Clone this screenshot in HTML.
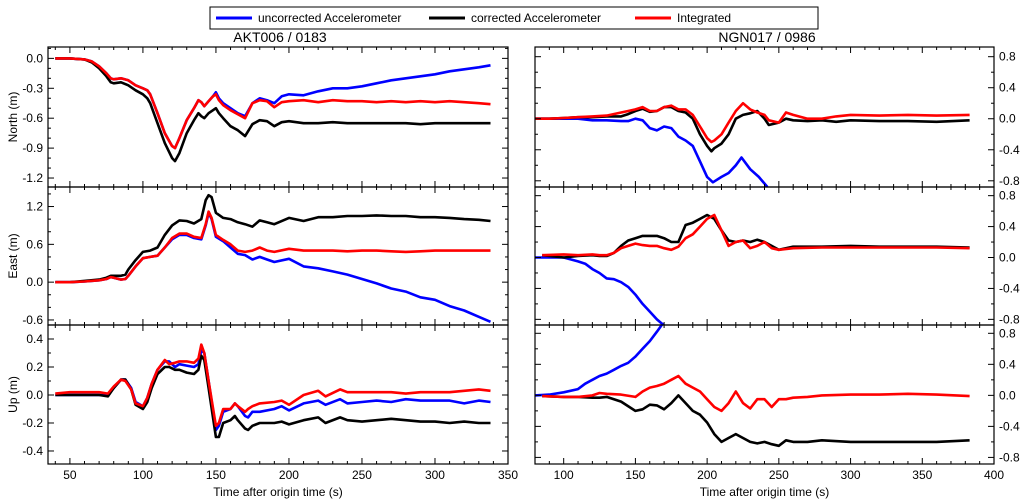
<!DOCTYPE html>
<html><head><meta charset="utf-8"><style>
html,body{margin:0;padding:0;background:#fff;}
svg{display:block;font-family:"Liberation Sans",sans-serif;}
</style></head><body>
<svg id="c" width="1024" height="504"></svg>
<script>
// ---- data ----
const LN_t=[40,50,60,65,70,75,78,80,85,90,95,100,103,105,110,115,120,122,125,130,135,138,140,142,145,148,150,152,155,160,165,170,175,180,185,190,195,200,210,220,230,240,250,260,270,280,290,300,310,320,330,338];
const LN_blue=[0,0,-0.01,-0.03,-0.08,-0.15,-0.2,-0.21,-0.2,-0.22,-0.27,-0.3,-0.32,-0.36,-0.55,-0.75,-0.88,-0.9,-0.8,-0.62,-0.5,-0.42,-0.44,-0.48,-0.43,-0.38,-0.34,-0.4,-0.45,-0.5,-0.55,-0.58,-0.45,-0.4,-0.42,-0.45,-0.38,-0.36,-0.37,-0.33,-0.3,-0.3,-0.28,-0.25,-0.22,-0.2,-0.18,-0.16,-0.13,-0.11,-0.09,-0.07];
const LN_red=[0,0,-0.01,-0.03,-0.08,-0.15,-0.2,-0.21,-0.2,-0.22,-0.27,-0.3,-0.32,-0.36,-0.55,-0.75,-0.88,-0.9,-0.8,-0.62,-0.5,-0.42,-0.44,-0.48,-0.43,-0.38,-0.36,-0.42,-0.47,-0.52,-0.56,-0.6,-0.45,-0.42,-0.43,-0.49,-0.44,-0.43,-0.42,-0.44,-0.42,-0.43,-0.43,-0.44,-0.43,-0.44,-0.43,-0.44,-0.43,-0.44,-0.45,-0.46];
const LN_black=[0,0,-0.01,-0.04,-0.1,-0.18,-0.24,-0.25,-0.24,-0.27,-0.32,-0.36,-0.4,-0.45,-0.65,-0.85,-1.0,-1.03,-0.95,-0.75,-0.62,-0.55,-0.58,-0.6,-0.55,-0.52,-0.5,-0.55,-0.6,-0.68,-0.72,-0.78,-0.66,-0.62,-0.63,-0.68,-0.64,-0.63,-0.65,-0.65,-0.64,-0.65,-0.65,-0.65,-0.65,-0.65,-0.66,-0.65,-0.65,-0.65,-0.65,-0.65];
const LE_t=[40,50,60,70,75,78,80,85,88,90,95,100,105,110,115,120,125,130,135,140,143,145,147,150,155,160,165,170,175,180,185,190,200,210,220,230,240,250,260,270,280,290,300,310,320,330,338];
const LE_blue=[0,0,0.01,0.03,0.05,0.08,0.07,0.04,0.05,0.1,0.25,0.38,0.4,0.42,0.55,0.68,0.75,0.75,0.7,0.68,0.9,1.1,1.0,0.72,0.65,0.55,0.45,0.43,0.36,0.4,0.36,0.32,0.37,0.25,0.22,0.17,0.12,0.05,-0.02,-0.1,-0.15,-0.24,-0.28,-0.38,-0.45,-0.55,-0.63];
const LE_red=[0,0,0.01,0.03,0.05,0.08,0.07,0.04,0.05,0.1,0.25,0.38,0.4,0.42,0.55,0.7,0.77,0.77,0.72,0.7,0.92,1.12,1.02,0.75,0.67,0.6,0.5,0.48,0.5,0.55,0.5,0.48,0.53,0.5,0.5,0.5,0.49,0.5,0.5,0.49,0.48,0.49,0.5,0.5,0.5,0.5,0.5];
const LE_black=[0,0,0.02,0.04,0.07,0.1,0.1,0.1,0.12,0.2,0.35,0.48,0.5,0.55,0.75,0.9,0.98,0.97,0.93,1.0,1.3,1.38,1.35,1.1,1.02,1.0,0.95,0.92,0.88,0.98,0.95,0.92,1.02,0.97,1.03,1.03,1.05,1.05,1.06,1.05,1.05,1.03,1.03,1.02,1.0,0.99,0.97];
const LU_t=[40,50,70,76,80,85,88,92,95,100,103,106,110,115,118,122,125,130,135,138,140,142,145,150,152,155,160,163,165,170,172,175,180,190,195,200,210,220,225,235,240,250,260,270,280,290,300,310,320,330,338];
const LU_blue=[0,0,0,0,0.05,0.11,0.11,0.05,-0.05,-0.08,-0.02,0.08,0.18,0.24,0.24,0.2,0.22,0.21,0.2,0.22,0.32,0.3,0.1,-0.25,-0.22,-0.12,-0.1,-0.06,-0.08,-0.15,-0.16,-0.12,-0.12,-0.1,-0.08,-0.11,-0.06,-0.04,-0.07,-0.03,-0.06,-0.05,-0.04,-0.05,-0.03,-0.04,-0.04,-0.04,-0.06,-0.04,-0.05];
const LU_red=[0.01,0.02,0.02,0.01,0.06,0.11,0.1,0.04,-0.06,-0.08,-0.02,0.08,0.18,0.25,0.22,0.23,0.24,0.24,0.23,0.26,0.36,0.3,0.1,-0.22,-0.2,-0.1,-0.1,-0.06,-0.08,-0.12,-0.1,-0.08,-0.06,-0.05,-0.04,-0.07,0.0,0.03,-0.01,0.04,0.02,0.02,0.02,0.02,0.01,0.02,0.02,0.02,0.03,0.04,0.03];
const LU_black=[0,0,0,-0.01,0.05,0.11,0.11,0.04,-0.07,-0.1,-0.05,0.05,0.15,0.2,0.2,0.18,0.18,0.16,0.15,0.18,0.28,0.25,0.05,-0.3,-0.3,-0.2,-0.18,-0.15,-0.18,-0.24,-0.25,-0.22,-0.2,-0.2,-0.19,-0.21,-0.18,-0.16,-0.2,-0.16,-0.18,-0.19,-0.18,-0.17,-0.18,-0.19,-0.19,-0.2,-0.19,-0.2,-0.2];
const RN_t=[80,90,100,110,120,130,140,145,150,155,160,165,170,175,180,185,190,195,200,203,205,210,215,220,225,230,235,240,243,250,255,260,270,280,290,300,320,340,360,383];
const RN_black=[0,0,0.01,0.02,0.02,0.03,0.03,0.06,0.1,0.13,0.09,0.1,0.15,0.15,0.1,0.08,0,-0.2,-0.35,-0.42,-0.38,-0.32,-0.2,0.0,0.05,0.07,0.1,0.0,-0.08,-0.05,0.0,-0.02,-0.03,-0.02,-0.04,-0.02,-0.03,-0.03,-0.04,-0.02];
const RN_red=[0,0,0.01,0.02,0.03,0.04,0.08,0.1,0.12,0.15,0.1,0.1,0.15,0.17,0.12,0.12,0.05,-0.1,-0.25,-0.3,-0.28,-0.2,-0.05,0.1,0.2,0.12,0.08,0.05,-0.02,-0.05,0.08,0.05,0.0,0.0,0.03,0.05,0.04,0.05,0.04,0.05];
const RN_bt=[80,90,100,110,120,130,140,145,150,155,160,165,170,175,180,185,190,195,200,204,210,215,220,224,230,236,242];
const RN_blue=[0,0,0,0,-0.02,-0.02,-0.03,-0.03,0,-0.02,-0.12,-0.15,-0.1,-0.12,-0.23,-0.28,-0.35,-0.55,-0.75,-0.82,-0.75,-0.7,-0.6,-0.5,-0.65,-0.75,-0.88];
const RE_t=[85,100,110,120,125,130,135,140,145,150,155,160,165,170,175,180,185,190,195,200,205,210,215,220,225,230,235,240,245,250,260,280,300,320,340,360,383];
const RE_black=[0.03,0.0,0.02,0.03,0.02,0.02,0.06,0.15,0.22,0.25,0.28,0.28,0.28,0.25,0.2,0.2,0.42,0.45,0.5,0.55,0.5,0.35,0.22,0.2,0.22,0.2,0.23,0.2,0.15,0.1,0.14,0.14,0.15,0.14,0.14,0.14,0.13];
const RE_red=[0.03,0.04,0.03,0.04,0.03,0.03,0.06,0.12,0.15,0.18,0.16,0.15,0.15,0.12,0.1,0.14,0.25,0.3,0.4,0.5,0.55,0.35,0.15,0.2,0.22,0.12,0.15,0.2,0.12,0.1,0.12,0.13,0.13,0.13,0.13,0.13,0.12];
const RE_bt=[80,90,100,110,115,120,125,130,135,140,145,150,155,160,165,170,172];
const RE_blue=[0,0,0,-0.05,-0.08,-0.15,-0.2,-0.27,-0.28,-0.32,-0.38,-0.48,-0.6,-0.7,-0.8,-0.88,-0.92];
const RU_t=[85,100,110,120,125,130,140,150,155,160,165,170,175,180,185,190,195,200,205,210,215,220,225,230,235,240,245,250,255,260,270,280,300,320,340,360,383];
const RU_black=[-0.01,-0.02,-0.02,-0.03,-0.03,-0.02,-0.08,-0.2,-0.18,-0.12,-0.13,-0.18,-0.1,0.0,-0.1,-0.2,-0.25,-0.35,-0.5,-0.6,-0.55,-0.5,-0.55,-0.6,-0.62,-0.6,-0.63,-0.65,-0.58,-0.6,-0.6,-0.58,-0.6,-0.6,-0.6,-0.6,-0.58];
const RU_red=[-0.01,-0.02,-0.02,0.0,0.03,0.02,0.01,-0.02,0.05,0.1,0.12,0.15,0.2,0.25,0.15,0.1,0.05,-0.05,-0.15,-0.2,-0.1,0.05,-0.1,-0.17,-0.05,-0.05,-0.15,-0.05,-0.05,-0.03,-0.02,0.0,0.01,0.01,0.02,0.01,-0.01];
const RU_bt=[80,90,100,110,115,120,125,130,135,140,145,150,155,160,165,170,172];
const RU_blue=[0,0.01,0.04,0.08,0.15,0.2,0.25,0.28,0.33,0.38,0.42,0.5,0.6,0.7,0.82,0.95,1.0];
const L_xticks=[50,100,150,200,250,300,350];
const R_xticks=[100,150,200,250,300,350,400];
const LN_yticks=[0.0,-0.3,-0.6,-0.9,-1.2];
const LE_yticks=[1.2,0.6,0.0,-0.6];
const LU_yticks=[0.4,0.2,0.0,-0.2,-0.4];
const R_yticks=[0.8,0.4,0.0,-0.4,-0.8];

const NS='http://www.w3.org/2000/svg';
const svg=document.getElementById('c');
function mk(tag,attrs,parent){const e=document.createElementNS(NS,tag);for(const k in attrs)e.setAttribute(k,attrs[k]);(parent||svg).appendChild(e);return e;}
const COL={blue:'#0000ff',black:'#000000',red:'#ff0000'};
let clipId=0;
function panel(name,box,xr,yr,xt,xminor,yt,yminor,yside,ylabel,series,showX){
  const [x0,y0,x1,y1]=box;
  const sx=v=>x0+(v-xr[0])/(xr[1]-xr[0])*(x1-x0);
  const sy=v=>y1-(v-yr[0])/(yr[1]-yr[0])*(y1-y0);
  const g=mk('g',{});
  
  
  const cid='cl'+(clipId++);
  const cp=mk('clipPath',{id:cid},g);mk('rect',{x:x0,y:y0,width:x1-x0,height:y1-y0},cp);
  const sg=mk('g',{'clip-path':'url(#'+cid+')'},g);
  series.forEach(s=>{
    let d='';s.t.forEach((t,i)=>{d+=(i?'L':'M')+sx(t).toFixed(1)+','+sy(s.v[i]).toFixed(1);});
    const p=mk('path',{d:d,fill:'none',stroke:COL[s.c],'stroke-width':2.6,'stroke-linejoin':'round'},sg);
    
    
  });
  mk('rect',{x:x0,y:y0,width:x1-x0,height:y1-y0,fill:'none',stroke:'#000','stroke-width':1.2},g);
  // x ticks
  for(let v=Math.ceil(xr[0]/xminor)*xminor;v<=xr[1];v+=xminor){
    const major=xt.indexOf(v)>=0;const L=major?6:3;const X=sx(v);
    mk('line',{x1:X,x2:X,y1:y1,y2:y1-L,stroke:'#000'},g);
    mk('line',{x1:X,x2:X,y1:y0,y2:y0+L,stroke:'#000'},g);
  }
  const ymin=Math.min(...yt),ymax=Math.max(...yt);
  for(let k=Math.ceil((yr[0]-ymin)/yminor-1e-6);ymin+k*yminor<=yr[1];k++){
    const v=ymin+k*yminor;const major=Math.abs(((v-ymin)/(yt.length>1?Math.abs(yt[0]-yt[1]):1))-Math.round((v-ymin)/Math.abs(yt[0]-yt[1])))<1e-6;
    const L=major?6:3;const Y=sy(v);
    mk('line',{x1:x0,x2:x0+L,y1:Y,y2:Y,stroke:'#000'},g);
    mk('line',{x1:x1,x2:x1-L,y1:Y,y2:Y,stroke:'#000'},g);
  }
  yt.forEach(v=>{
    const t=mk('text',{x:yside==='left'?x0-5:x1+5,y:sy(v)+4,'font-size':12,'text-anchor':yside==='left'?'end':'start'},g);
    t.textContent=v.toFixed(1);
    
    
  });
  if(ylabel){const t=mk('text',{x:0,y:0,'font-size':12,'text-anchor':'middle',transform:`translate(17,${(y0+y1)/2}) rotate(-90)`},g);t.textContent=ylabel;
    
    }
  if(showX){xt.forEach(v=>{const t=mk('text',{x:sx(v),y:y1+15,'font-size':12,'text-anchor':'middle'},g);t.textContent=v;
    
    });
    const t=mk('text',{x:(x0+x1)/2,y:y1+32,'font-size':12,'text-anchor':'middle'},g);t.textContent='Time after origin time (s)';
    
    }
}
const LX=[35,350],RX=[80,400];
panel('left-north-panel',[48,47,508,187],LX,[-1.29,0.114],L_xticks,10,LN_yticks,0.1,'left','North (m)',
 [{t:LN_t,v:LN_blue,c:'blue'},{t:LN_t,v:LN_black,c:'black'},{t:LN_t,v:LN_red,c:'red'}],false);
panel('left-east-panel',[48,187,508,325],LX,[-0.68,1.51],L_xticks,10,LE_yticks,0.2,'left','East (m)',
 [{t:LE_t,v:LE_blue,c:'blue'},{t:LE_t,v:LE_black,c:'black'},{t:LE_t,v:LE_red,c:'red'}],false);
panel('left-up-panel',[48,325,508,464],LX,[-0.493,0.5],L_xticks,10,LU_yticks,0.1,'left','Up (m)',
 [{t:LU_t,v:LU_blue,c:'blue'},{t:LU_t,v:LU_black,c:'black'},{t:LU_t,v:LU_red,c:'red'}],true);
panel('right-north-panel',[535,47,994,187],RX,[-0.88,0.925],R_xticks,10,R_yticks,0.2,'right',null,
 [{t:RN_bt,v:RN_blue,c:'blue'},{t:RN_t,v:RN_black,c:'black'},{t:RN_t,v:RN_red,c:'red'}],false);
panel('right-east-panel',[535,187,994,325],RX,[-0.873,0.912],R_xticks,10,R_yticks,0.2,'right',null,
 [{t:RE_bt,v:RE_blue,c:'blue'},{t:RE_t,v:RE_black,c:'black'},{t:RE_t,v:RE_red,c:'red'}],false);
panel('right-up-panel',[535,325,994,464],RX,[-0.885,0.907],R_xticks,10,R_yticks,0.2,'right',null,
 [{t:RU_bt,v:RU_blue,c:'blue'},{t:RU_t,v:RU_black,c:'black'},{t:RU_t,v:RU_red,c:'red'}],true);
// titles
let t=mk('text',{x:280,y:47-5,'font-size':14,'text-anchor':'middle'});t.textContent='AKT006 / 0183';


t=mk('text',{x:767,y:47-5,'font-size':14,'text-anchor':'middle'});t.textContent='NGN017 / 0986';


// legend
const lg=mk('g',{});


mk('rect',{x:210,y:7,width:608,height:22,fill:'#fff',stroke:'#000','stroke-width':1},lg);
[['blue',216,'uncorrected Accelerometer'],['black',429,'corrected Accelerometer'],['red',635,'Integrated']].forEach(e=>{
  const eg=mk('g',{},lg);
  
  
  mk('line',{x1:e[1],x2:e[1]+36,y1:18,y2:18,stroke:COL[e[0]],'stroke-width':3},eg);
  const tx=mk('text',{x:e[1]+42,y:22,'font-size':12},eg);tx.textContent=e[2];
});
</script>
</body></html>
